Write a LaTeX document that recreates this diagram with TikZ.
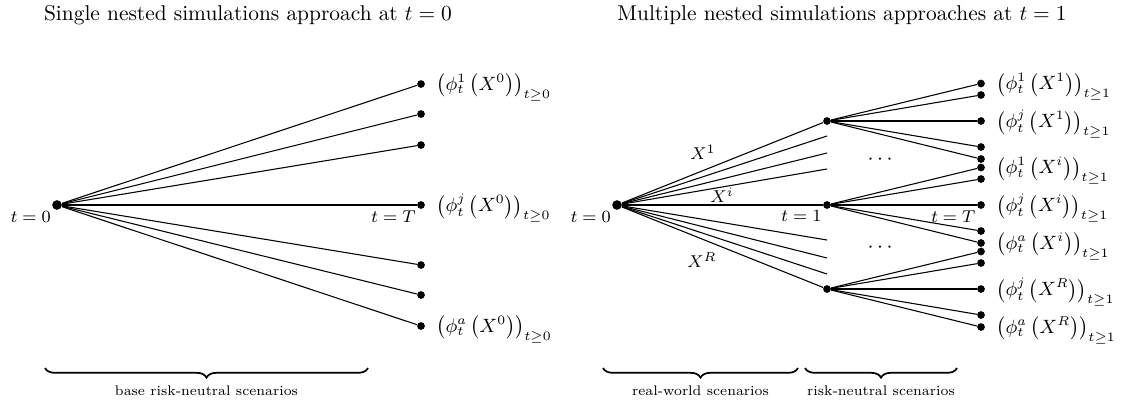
\documentclass[tikz,border=0pt]{standalone}
\usepackage{amsmath}
\usepackage{amssymb}
\usetikzlibrary{decorations.pathreplacing,positioning}
\tikzset{
  root dot/.style={circle,fill=black,inner sep=0pt,minimum size=4.5pt},
  tree dot/.style={circle,fill=black,inner sep=0pt,minimum size=3.6pt},
  tree edge/.style={line width=0.5pt,draw=black},
  leaf label/.style={anchor=west,inner sep=0pt,xshift=5pt,yshift=-1.5pt,font=\small},
  time label/.style={font=\footnotesize,inner sep=1pt},
  scen label/.style={font=\footnotesize,inner sep=0pt},
  brace line/.style={decorate,decoration={brace,mirror,amplitude=4.5pt},line width=0.8pt},
  brace label/.style={font=\fontsize{6.5}{8}\selectfont,inner sep=0pt},
  title label/.style={font=\normalsize}
}
\newcommand{\phileaf}[3]{\bigl(\phi_t^{#1}\left(X^{#2}\right)\bigr)_{t\geq #3}}

\begin{document}
\begin{tikzpicture}[x=4.67pt,y=4.67pt]
  \useasboundingbox (0,-19.6) rectangle (112.5,20.5);
  % titles
  \node[title label] (title0) at (24.8,19.0) {Single nested simulations approach at $t=0$};
  \node[title label] (title1) at (84.2,19.0) {Multiple nested simulations approaches at $t=1$};

  % single nested simulations
  \node[root dot,label={[time label]below left:$t=0$}] (r0) at (5.7,0) {};
  \node[tree dot] (a1) at (42.1,12.1) {};
  \node[tree dot] (a2) at (42.1,9.1) {};
  \node[tree dot] (a3) at (42.1,6.0) {};
  \node[tree dot,label={[time label]below left:$t=T$}] (a4) at (42.1,0) {};
  \node[tree dot] (a5) at (42.1,-6.0) {};
  \node[tree dot] (a6) at (42.1,-9.0) {};
  \node[tree dot] (a7) at (42.1,-12.1) {};
  \foreach \i in {1,...,7}
    \draw[tree edge] (r0) -- (a\i);
  \node[leaf label] (la1) at (a1.east) {$\phileaf{1}{0}{0}$};
  \node[leaf label] (la4) at (a4.east) {$\phileaf{j}{0}{0}$};
  \node[leaf label] (la7) at (a7.east) {$\phileaf{a}{0}{0}$};

  % multiple nested simulations
  \node[root dot,label={[time label]below left:$t=0$}] (r1) at (61.7,0) {};
  \node[tree dot] (m1) at (82.7,8.4) {};
  \node[tree dot,label={[time label]below left:$t=1$}] (m2) at (82.7,0) {};
  \node[tree dot] (m3) at (82.7,-8.4) {};
  \coordinate (e1) at (82.7,6.9);
  \coordinate (e2) at (82.7,5.2);
  \coordinate (e3) at (82.7,3.6);
  \coordinate (e4) at (82.7,-3.5);
  \coordinate (e5) at (82.7,-5.3);
  \coordinate (e6) at (82.7,-6.9);
  \foreach \n in {m1,m2,m3,e1,e2,e3,e4,e5,e6}
    \draw[tree edge] (r1) -- (\n);
  \foreach \m/\y in {1/8.4,2/0,3/-8.4}
    \foreach \k/\dy in {1/3.75,2/2.6,3/0,4/-2.6,5/-3.8} {
      \node[tree dot] (b\m\k) at (98.1,\y+\dy) {};
      \draw[tree edge] (m\m) -- (b\m\k);
    }
  \node[time label,anchor=north east] (tT1) at ([xshift=-1.5pt,yshift=-1.5pt]b23.center) {$t=T$};
  \node[scen label] (x1) at (70.3,5.3) {$X^1$};
  \node[scen label] (xi) at (72.2,1.0) {$X^i$};
  \node[scen label] (xR) at (70.2,-5.5) {$X^R$};
  \node (dots1) at (88.2,4.5) {$\cdots$};
  \node (dots2) at (88.2,-4.3) {$\cdots$};
  \node[leaf label] (lb11) at (b11.east) {$\phileaf{1}{1}{1}$};
  \node[leaf label] (lb13) at (b13.east) {$\phileaf{j}{1}{1}$};
  \node[leaf label] (lb21) at (b21.east) {$\phileaf{1}{i}{1}$};
  \node[leaf label] (lb23) at (b23.east) {$\phileaf{j}{i}{1}$};
  \node[leaf label] (lb25) at (b25.east) {$\phileaf{a}{i}{1}$};
  \node[leaf label] (lb33) at (b33.east) {$\phileaf{j}{R}{1}$};
  \node[leaf label] (lb35) at (b35.east) {$\phileaf{a}{R}{1}$};

  % braces
  \coordinate (s0) at (4.5,-16.3);
  \coordinate (s1) at (36.8,-16.3);
  \coordinate (w0) at (60.3,-16.3);
  \coordinate (w1) at (79.8,-16.3);
  \coordinate (n0) at (80.5,-16.3);
  \coordinate (n1) at (95.7,-16.3);
  \draw[brace line] (s0) -- node[brace label,below=8pt] (base) {base risk-neutral scenarios} (s1);
  \draw[brace line] (w0) -- node[brace label,below=8pt] (real) {real-world scenarios} (w1);
  \draw[brace line] (n0) -- node[brace label,below=8pt] (neutral) {risk-neutral scenarios} (n1);
\end{tikzpicture}
\end{document}
